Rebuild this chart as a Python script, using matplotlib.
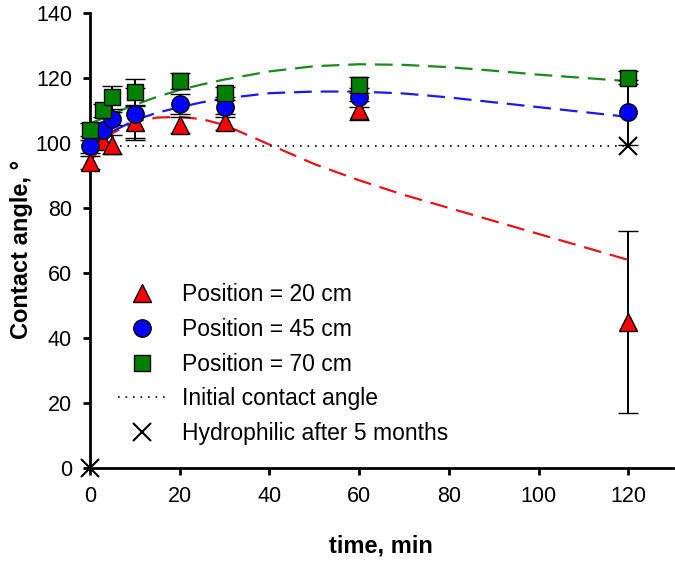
import numpy as np
import matplotlib
matplotlib.use("Agg")
import matplotlib.pyplot as plt

# measured contact angles (mean, error) per position
t_20 = [0, 3, 5, 10, 20, 30, 60, 120]
ca_20 = [94, 100.5, 99.5, 106.5, 105.5, 106.5, 110, 45]
err_20 = [2, 2, 3, 5, 2.5, 2.5, 3, 28]

t_45 = [0, 3, 5, 10, 20, 30, 60, 120]
ca_45 = [99, 104, 107.5, 109, 112, 111, 114, 109.5]
err_45 = [2, 2, 2, 8, 3, 3, 3, 10]

t_70 = [0, 3, 5, 10, 20, 30, 60, 120]
ca_70 = [104, 110, 114, 115.8, 119, 115.3, 117.8, 120]
err_70 = [2, 2, 3.5, 4, 2.5, 2, 2.5, 2]

# trend lines
t_fit = [0, 3, 5, 10, 15, 20, 25, 30, 40, 50, 60, 70, 80, 90, 100, 110, 120]
fit_20 = [94, 100, 103, 106.5, 107.8, 108, 107.3, 105.5, 99.5, 93.5, 88.5, 84, 80, 76, 72, 68, 64]
fit_45 = [99.5, 102, 103.5, 107, 109.3, 111, 112.5, 113.7, 115.3, 115.8, 115.8, 115.2, 114, 112.5, 111, 109.5, 108]
fit_70 = [106, 107.6, 109, 111.7, 114.2, 116.3, 118, 119.5, 122, 123.6, 124.2, 124, 123.3, 122.2, 121, 120, 119]

initial_angle = 99
t_hydro = [0, 120]
ca_hydro = [0, 99]

plt.rcParams['font.family'] = ['Liberation Sans', 'DejaVu Sans']

fig = plt.figure(figsize=(6.75, 5.65), dpi=100)
ax = fig.add_axes([0.1333, 0.1717, 0.864, 0.8055])

# trend lines
ax.plot(t_fit, fit_20, color='#e8141a', lw=1.6, dashes=(8, 4), zorder=2)
ax.plot(t_fit, fit_45, color='#1a1ae8', lw=1.6, dashes=(8, 4), zorder=2)
ax.plot(t_fit, fit_70, color='#1a8a1a', lw=1.6, dashes=(8, 4), zorder=2)

ax.plot([0, 120], [initial_angle, initial_angle], color='black', lw=1.2,
        ls=(0, (1, 3.5)), label='Initial contact angle', zorder=2)

ax.errorbar(t_20, ca_20, yerr=err_20, fmt='^', ms=13, mfc='red', mec='black',
            mew=1, ecolor='black', elinewidth=1.4, capsize=7.5, capthick=1.4,
            label='Position = 20 cm', zorder=3, clip_on=False)
ax.errorbar(t_45, ca_45, yerr=err_45, fmt='o', ms=12.5, mfc='blue', mec='black',
            mew=1, ecolor='black', elinewidth=1.4, capsize=7.5, capthick=1.4,
            label='Position = 45 cm', zorder=3, clip_on=False)
ax.errorbar(t_70, ca_70, yerr=err_70, fmt='s', ms=11.5, mfc='green', mec='black',
            mew=1, ecolor='black', elinewidth=1.4, capsize=7.5, capthick=1.4,
            label='Position = 70 cm', zorder=3, clip_on=False)

ax.plot(t_hydro, ca_hydro, 'x', color='black', ms=13, mew=1.5,
        label='Hydrophilic after 5 months', zorder=4, clip_on=False)

ax.set_xlim(0, 130)
ax.set_ylim(0, 140)
ax.set_xticks(range(0, 121, 20))
ax.set_yticks(range(0, 141, 20))
ax.spines['top'].set_visible(False)
ax.spines['right'].set_visible(False)
ax.spines['left'].set_linewidth(2)
ax.spines['bottom'].set_linewidth(2)
ax.tick_params(direction='out', length=5, width=2, labelsize=15.5, pad=8)

ax.set_xlabel('time, min', fontsize=17, fontweight='bold')
ax.set_ylabel('Contact angle, °', fontsize=17, fontweight='bold')
ax.xaxis.set_label_coords(0.499, -0.147)
ax.yaxis.set_label_coords(-0.098, 0.481)

handles, labels = ax.get_legend_handles_labels()
order = [labels.index(l) for l in ['Position = 20 cm', 'Position = 45 cm',
                                   'Position = 70 cm', 'Initial contact angle',
                                   'Hydrophilic after 5 months']]
hs = []
for i in order:
    h = handles[i]
    if hasattr(h, 'lines'):
        h = h.lines[0]
    hs.append(h)
ax.legend(hs, [labels[i] for i in order], loc='upper left',
          bbox_to_anchor=(0.012, 0.451), frameon=False, fontsize=16.5,
          handlelength=2.1, handletextpad=0.71, labelspacing=0.51, markerscale=1)

fig.savefig('out.png', dpi=100)
